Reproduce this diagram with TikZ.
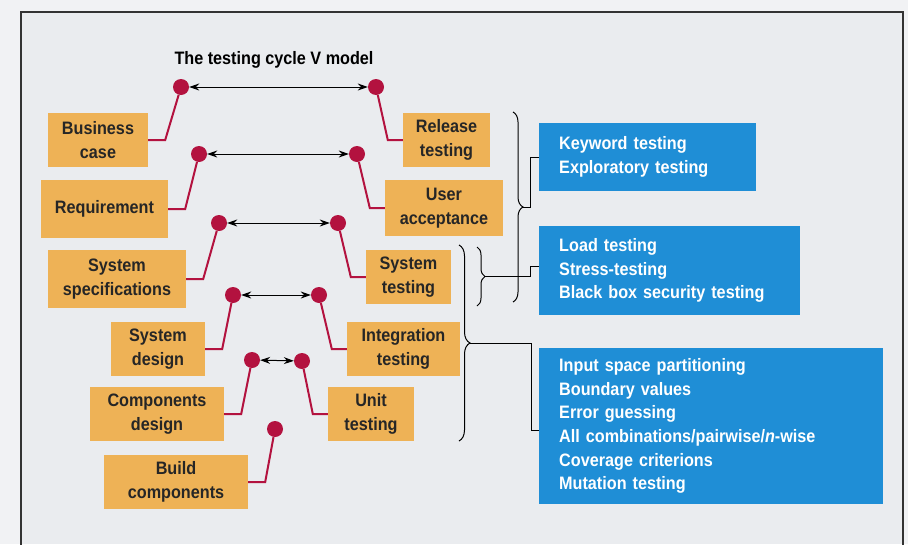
\documentclass[tikz,border=0pt]{standalone}
\usepackage{fontspec}
\setmainfont{Liberation Sans}
\newfontfamily\narrowfont{Liberation Sans}[UprightFont={* Bold},FakeStretch=0.9]
\usetikzlibrary{shapes,arrows.meta,positioning,decorations.pathreplacing}

\definecolor{stageorange}{HTML}{EEB256}
\definecolor{methodblue}{HTML}{1F8ED6}
\definecolor{jointred}{HTML}{B3123F}
\definecolor{panelgray}{HTML}{EAECEF}
\definecolor{pagegray}{HTML}{F1F2F4}
\definecolor{framegray}{HTML}{333333}

\begin{document}
\begin{tikzpicture}[x=1pt,y=-1pt,
  stage/.style={rectangle,fill=stageorange,inner sep=0,align=center,minimum height=54,
    text=black!85,font=\narrowfont\fontsize{18}{24}\selectfont},
  method/.style={rectangle,fill=methodblue,anchor=west,inner xsep=20,inner ysep=0,align=left,
    text=white,font=\narrowfont\fontsize{18}{23.6}\selectfont},
  joint/.style={circle,fill=jointred,inner sep=0,minimum size=16},
  leg/.style={draw=jointred,line width=2},
  link/.style={{Stealth[length=10pt,width=7pt]}-{Stealth[length=10pt,width=7pt]},line width=1},
  grp/.style={decorate,decoration={brace,amplitude=#1},line width=1}]

       \useasboundingbox (0,0) rectangle (908,544);
       \fill [pagegray] (0,0) rectangle (908,544);
       \fill [panelgray] (21,12) rectangle (903,544);
       \draw [framegray,line width=2.5] (21,550) -- (21,12) -- (903,12) -- (903,550);

       \node [font=\narrowfont\fontsize{18}{22}\selectfont] (title) at (274,60) {The testing cycle V model};

       % left arm of the V
       \node [stage,minimum width=100] (bc) at (98,140) {Business\\case};
       \node [stage,minimum width=127,minimum height=58] (req) at (104.5,209) {Requirement};
       \node [stage,minimum width=138,minimum height=58] (sspec) at (117,279) {System\\specifications};
       \node [stage,minimum width=94] (sdes) at (158,349) {System\\design};
       \node [stage,minimum width=134] (cdes) at (157,414) {Components\\design};
       \node [stage,minimum width=144] (build) at (176,482) {Build\\components};

       % right arm of the V
       \node [stage,minimum width=87] (rel) at (446.5,140) {Release\\testing};
       \node [stage,minimum width=118,minimum height=56] (uacc) at (444,208) {User\\acceptance};
       \node [stage,minimum width=85] (stest) at (408.5,277) {System\\testing};
       \node [stage,minimum width=113] (itest) at (403.5,349) {Integration\\testing};
       \node [stage,minimum width=86] (utest) at (371,414) {Unit\\testing};

       \node [joint] (l1) at (181,87) {};
       \node [joint] (l2) at (199,154) {};
       \node [joint] (l3) at (219,223) {};
       \node [joint] (l4) at (233,295) {};
       \node [joint] (l5) at (252,360) {};
       \node [joint] (l6) at (275,429) {};
       \node [joint] (r1) at (376,87) {};
       \node [joint] (r2) at (357,154) {};
       \node [joint] (r3) at (338,223) {};
       \node [joint] (r4) at (319,295) {};
       \node [joint] (r5) at (302,361) {};

       \draw [leg] (bc.east) -- ++(17,0) -- (l1);
       \draw [leg] (req.east) -- ++(17,0) -- (l2);
       \draw [leg] (sspec.east) -- ++(17,0) -- (l3);
       \draw [leg] (sdes.east) -- ++(17,0) -- (l4);
       \draw [leg] (cdes.east) -- ++(17,0) -- (l5);
       \draw [leg] (build.east) -- ++(17,0) -- (l6);
       \draw [leg] (rel.west) -- ++(-15,0) -- (r1);
       \draw [leg] (uacc.west) -- ++(-15,0) -- (r2);
       \draw [leg] (stest.west) -- ++(-15,0) -- (r3);
       \draw [leg] (itest.west) -- ++(-15,0) -- (r4);
       \draw [leg] (utest.west) -- ++(-15,0) -- (r5);

       \draw [link] (l1) -- (r1);
       \draw [link] (l2) -- (r2);
       \draw [link] (l3) -- (r3);
       \draw [link] (l4) -- (r4);
       \draw [link] (l5) -- (r5);

       % testing techniques
       \node [method,text width=177,minimum height=68] (kw) at (539,157)
             {Keyword testing\\Exploratory testing};
       \node [method,text width=221,minimum height=89] (load) at (539,270.5)
             {Load testing\\Stress-testing\\Black box security testing};
       \node [method,text width=304,minimum height=156] (inp) at (539,426)
             {Input space partitioning\\Boundary values\\Error guessing\\
              All combinations/pairwise/{\itshape n}-wise\\Coverage criterions\\Mutation testing};

       % braces grouping the test levels
       \draw [grp=10] (513,112) -- (513,302);
       \draw [grp=8] (477,247) -- (477,306);
       \draw [grp=11] (459,245) -- (459,441);
       \coordinate (ta) at (523,207);
       \coordinate (tb) at (485,276);
       \coordinate (tc) at (470,343);
       \draw [line width=1] (ta) -- ++(7,0) |- (kw.west);
       \draw [line width=1] (tb) -- ++(45,0) |- ([yshift=4pt]load.west);
       \draw [line width=1] (tc) -- ++(61,0) |- ([yshift=-4pt]inp.west);
\end{tikzpicture}
\end{document}
